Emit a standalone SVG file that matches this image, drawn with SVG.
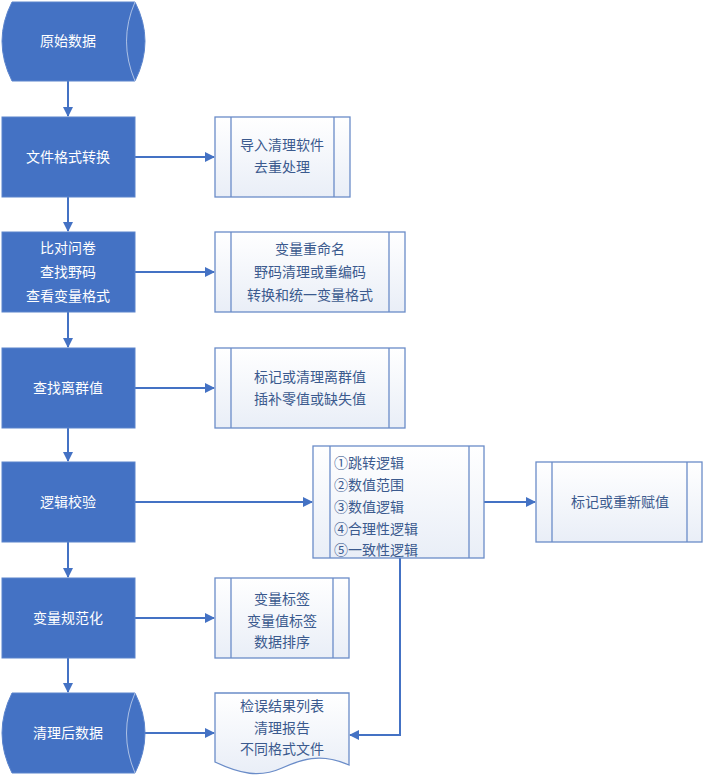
<svg xmlns="http://www.w3.org/2000/svg" width="709" height="778" viewBox="0 0 709 778">
<style>
.m{fill:#4472C4;stroke:#5B84CC;stroke-width:1}
.s{fill:url(#g);stroke:#6A8CC8;stroke-width:1.3}
.il{stroke:#6A8CC8;stroke-width:1.3;fill:none}
.tm{font-family:"Noto Sans CJK SC",sans-serif;font-size:14px;fill:#fff;text-anchor:middle}
.ts{font-family:"Noto Sans CJK SC",sans-serif;font-size:14px;fill:#3B5A8E;text-anchor:middle}
.c{stroke:#4472C4;stroke-width:2;fill:none;marker-end:url(#a)}
</style>
<defs>
<linearGradient id="g" x1="0" y1="0" x2="0" y2="1"><stop offset="0" stop-color="#fff"/><stop offset="1" stop-color="#E9EEF7"/></linearGradient>
<marker id="a" markerWidth="10" markerHeight="10" refX="9" refY="5" orient="auto" markerUnits="userSpaceOnUse" viewBox="0 0 10 10"><path d="M0,0 L10,5 L0,10 z" fill="#4472C4"/></marker>
</defs>
<g id="connectors">
<path class="c" d="M68,81 V116"/>
<path class="c" d="M68,197 V231"/>
<path class="c" d="M68,312 V347"/>
<path class="c" d="M68,428 V461"/>
<path class="c" d="M68,542 V577"/>
<path class="c" d="M68,658 V692"/>
<path class="c" d="M135,157 H214"/>
<path class="c" d="M135,272 H214"/>
<path class="c" d="M135,388 H214"/>
<path class="c" d="M135,502 H312"/>
<path class="c" d="M484,502 H535"/>
<path class="c" d="M135,618 H214"/>
<path class="c" d="M135,733 H214"/>
<path class="c" d="M400,558 V735 H350"/>
</g>
<g id="n1"><path class="m" d="M12,2 H135 Q155,41 135,81 H12 Q-8,41 12,2 Z"/><path d="M135,2 Q118,41 135,81" stroke="#fff" stroke-width="0.8" fill="none" opacity="0.7"/><text class="tm" x="68" y="46">原始数据</text></g>
<g id="n2"><rect class="m" x="2" y="117" width="133" height="80"/><text class="tm" x="68" y="162">文件格式转换</text></g>
<g id="n3"><rect class="m" x="2" y="232" width="133" height="80"/><text class="tm" x="68" y="253">比对问卷</text><text class="tm" x="68" y="277">查找野码</text><text class="tm" x="68" y="301">查看变量格式</text></g>
<g id="n4"><rect class="m" x="2" y="348" width="133" height="80"/><text class="tm" x="68" y="393">查找离群值</text></g>
<g id="n5"><rect class="m" x="2" y="462" width="133" height="80"/><text class="tm" x="68" y="507">逻辑校验</text></g>
<g id="n6"><rect class="m" x="2" y="578" width="133" height="80"/><text class="tm" x="68" y="623">变量规范化</text></g>
<g id="n7"><path class="m" d="M12,693 H135 Q155,733 135,773 H12 Q-8,733 12,693 Z"/><path d="M135,693 Q118,733 135,773" stroke="#fff" stroke-width="0.8" fill="none" opacity="0.7"/><text class="tm" x="68" y="738">清理后数据</text></g>
<g id="s1"><rect class="s" x="215" y="117" width="135" height="80"/><path class="il" d="M231,117V197M334,117V197"/><text class="ts" x="282" y="150">导入清理软件</text><text class="ts" x="282" y="172">去重处理</text></g>
<g id="s2"><rect class="s" x="215" y="232" width="190" height="80"/><path class="il" d="M231,232V312M389,232V312"/><text class="ts" x="310" y="254">变量重命名</text><text class="ts" x="310" y="277">野码清理或重编码</text><text class="ts" x="310" y="300">转换和统一变量格式</text></g>
<g id="s3"><rect class="s" x="215" y="348" width="190" height="80"/><path class="il" d="M231,348V428M389,348V428"/><text class="ts" x="310" y="382">标记或清理离群值</text><text class="ts" x="310" y="404">插补零值或缺失值</text></g>
<g id="s4"><rect class="s" x="313" y="446" width="171" height="112"/><path class="il" d="M330,446V558M469,446V558"/>
<text class="ts" x="334" y="468" style="text-anchor:start">①跳转逻辑</text><text class="ts" x="334" y="490" style="text-anchor:start">②数值范围</text><text class="ts" x="334" y="512" style="text-anchor:start">③数值逻辑</text><text class="ts" x="334" y="534" style="text-anchor:start">④合理性逻辑</text><text class="ts" x="334" y="555" style="text-anchor:start">⑤一致性逻辑</text></g>
<g id="s5"><rect class="s" x="536" y="462" width="166" height="80"/><path class="il" d="M552,462V542M687,462V542"/><text class="ts" x="620" y="507">标记或重新赋值</text></g>
<g id="s6"><rect class="s" x="215" y="578" width="134" height="80"/><path class="il" d="M231,578V658M333,578V658"/><text class="ts" x="282" y="604">变量标签</text><text class="ts" x="282" y="626">变量值标签</text><text class="ts" x="282" y="647">数据排序</text></g>
<g id="s7"><path class="s" d="M215,693 H349 V765 C320,752 300,760 282,768 C260,778 240,774 215,762 Z"/><text class="ts" x="282" y="711">检误结果列表</text><text class="ts" x="282" y="733">清理报告</text><text class="ts" x="282" y="754">不同格式文件</text></g>
</svg>
